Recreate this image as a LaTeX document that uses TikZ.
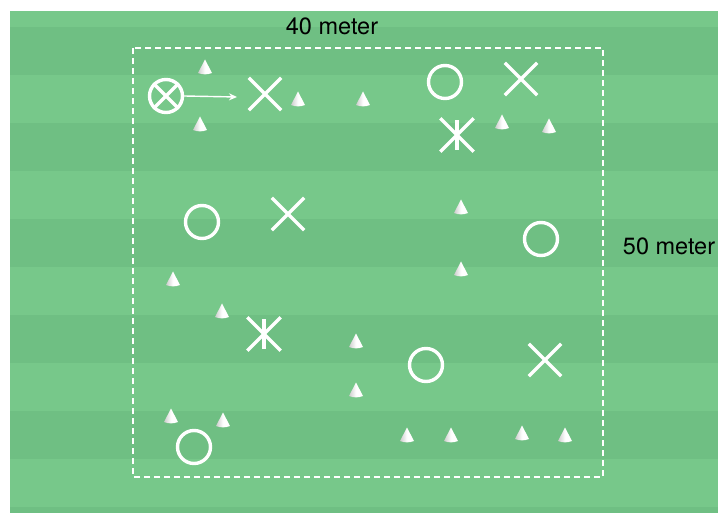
\documentclass[tikz,border=0pt]{standalone}
\usepackage{fontspec}
\setmainfont{TeX Gyre Heros}
\usetikzlibrary{shapes.misc,arrows.meta}
\definecolor{fieldlight}{RGB}{119,200,138}
\definecolor{fielddark}{RGB}{111,191,131}
\tikzset{
  player/.style={circle, draw=white, line width=3.4pt, minimum size=33pt, inner sep=0pt},
  xmark/.style={cross out, draw=white, line width=3.4pt, minimum size=29pt, inner sep=0pt},
  starmark/.style={cross out, draw=white, line width=3.4pt, minimum width=30pt, minimum height=30pt, inner sep=0pt},
  label/.style={font=\fontsize{23.5}{28}\selectfont, text=black, inner sep=0pt, anchor=base},
  cone/.pic={
    \shade[left color=gray!40, right color=white, middle color=white]
      (0,-7.5) -- (7,6) to[out=-160,in=-20] (-7,6) -- cycle;
  }
}
\begin{document}
\begin{tikzpicture}[x=1pt,y=-1pt]
\useasboundingbox (0,0) rectangle (718,513);
\fill[white] (0,0) rectangle (718,513);
% field with stripes
\fill[fielddark] (10,11) rectangle (718,513);
\fill[fieldlight] (10,11) rectangle (718,27);
\foreach \yy in {75,171,267,363,459} {
  \fill[fieldlight] (10,\yy) rectangle (718,\yy+48);
}
% dashed area
\draw[white, line width=1.6pt, dash pattern=on 6pt off 4pt] (133,48) rectangle (603,477);
% labels
\node[label] (w) at (332,35) {40 meter};
\node[label] (h) at (669,255) {50 meter};
% cones
\foreach \cx/\cy [count=\i] in {205/67, 200/124, 298/99, 363/99, 502/122, 549/126, 461/207, 461/269,
  173/279, 222/311, 356/341, 356/390, 171/416, 223/420, 407/435, 451/435, 522/433, 565/435} {
  \pic (cone\i) at (\cx,\cy) {cone};
}
% player with ball
\node[player] (o) at (166,96) {};
\draw[white, line width=3.4pt] (o.45) -- (o.225) (o.135) -- (o.315);
\coordinate (arrowend) at (237,97);
\draw[white, line width=1.4pt, -{Stealth[length=8pt,width=7pt]}] (o.east) -- (arrowend);
% circles
\node[player] (c1) at (445,82) {};
\node[player] (c2) at (202,222) {};
\node[player] (c3) at (541,239) {};
\node[player] (c4) at (426,365) {};
\node[player] (c5) at (194,447) {};
% crosses
\node[xmark] (x1) at (265,94) {};
\node[xmark] (x2) at (521,79) {};
\node[xmark] (x3) at (288,214) {};
\node[xmark] (x4) at (545,360) {};
% asterisks
\node[starmark] (s1) at (457,135) {};
\draw[white, line width=3.4pt] ([yshift=-2pt]s1.north) -- ([yshift=2pt]s1.south);
\node[starmark] (s2) at (264,334) {};
\draw[white, line width=3.4pt] ([yshift=-2pt]s2.north) -- ([yshift=2pt]s2.south);
\end{tikzpicture}
\end{document}
